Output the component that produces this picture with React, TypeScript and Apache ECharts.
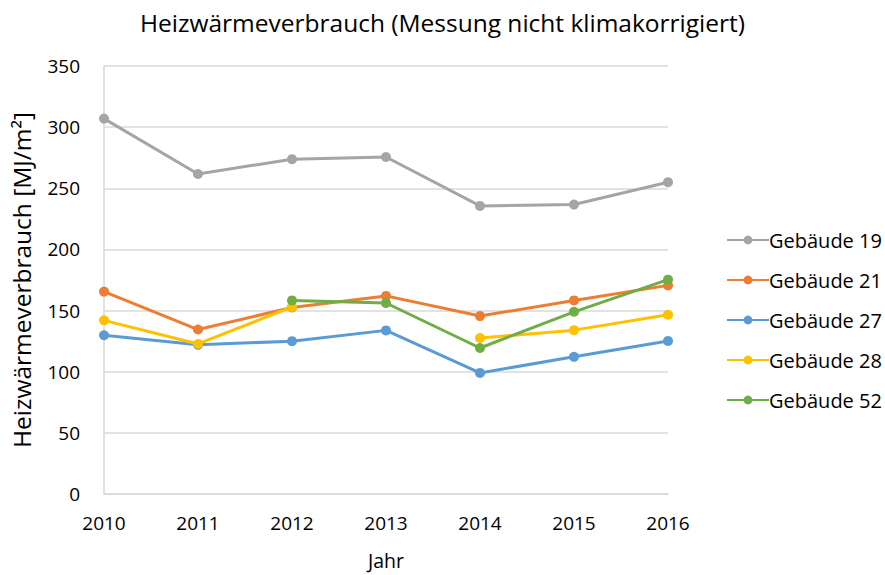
import React, { useEffect, useRef } from "react";
import * as echarts from "echarts";

const years = ["2010", "2011", "2012", "2013", "2014", "2015", "2016"];
const g19 = [307, 261.7, 273.8, 275.6, 235.6, 236.7, 255];
const g21 = [165.5, 134.5, 152.5, 162, 145.5, 158.3, 170.6];
const g27 = [129.8, 122, 125, 133.8, 99, 112.2, 125.2];
const g28 = [142, 122.7, 153, null, 127.6, 134, 146.6];
const g52 = [null, null, 158.3, 156.2, 119.4, 149, 175.3];
const seriesNames = ["Gebäude 19", "Gebäude 21", "Gebäude 27", "Gebäude 28", "Gebäude 52"];
const colors = ["#A5A5A5", "#ED7D31", "#5B9BD5", "#FFC000", "#70AD47"];
const yTicks = { min: 0, max: 350, interval: 50 };

const FONT = "'Open Sans', 'Noto Sans', sans-serif";

export default function App() {
  const ref = useRef<HTMLDivElement>(null);
  useEffect(() => {
    if (!ref.current) return;
    const chart = echarts.init(ref.current, null, { renderer: "svg" });
    const datasets = [g19, g21, g27, g28, g52];
    chart.setOption({
      animation: false,
      backgroundColor: "#ffffff",
      textStyle: { fontFamily: FONT, color: "#000" },
      title: {
        text: "Heizwärmeverbrauch (Messung nicht klimakorrigiert)",
        left: "center",
        top: 5,
        textStyle: { fontFamily: FONT, fontSize: 24.5, fontWeight: "normal", color: "#000" },
      },
      grid: { left: 104, right: 217, top: 66, bottom: 72, containLabel: false },
      legend: {
        orient: "vertical",
        left: 721,
        top: 225,
        itemGap: 20,
        itemWidth: 42,
        itemHeight: 11,
        data: seriesNames,
        textStyle: { fontFamily: FONT, fontSize: 20, lineHeight: 20, color: "#000", padding: [0, 0, 0, -5] },
      },
      xAxis: {
        type: "category",
        data: years,
        boundaryGap: false,
        name: "Jahr",
        nameLocation: "middle",
        nameGap: 56,
        nameTextStyle: { fontFamily: FONT, fontSize: 19.5, color: "#000" },
        axisLine: { show: true, lineStyle: { color: "#D9D9D9", width: 1.5 } },
        axisTick: { show: false },
        axisLabel: { fontFamily: FONT, fontSize: 19, color: "#000", margin: 19 },
        splitLine: { show: false },
      },
      yAxis: {
        type: "value",
        min: yTicks.min,
        max: yTicks.max,
        interval: yTicks.interval,
        name: "Heizwärmeverbrauch [MJ/m²]",
        nameLocation: "middle",
        nameRotate: 90,
        nameGap: 70,
        nameTextStyle: { fontFamily: FONT, fontSize: 24.5, color: "#000" },
        axisLine: { show: true, lineStyle: { color: "#D9D9D9", width: 1.5 } },
        axisTick: { show: false },
        axisLabel: { fontFamily: FONT, fontSize: 19, color: "#000", margin: 24 },
        splitLine: { show: true, lineStyle: { color: "#D9D9D9", width: 1.5 } },
      },
      series: datasets.map((d, i) => ({
        name: seriesNames[i],
        type: "line",
        data: d,
        connectNulls: false,
        symbol: "circle",
        symbolSize: 10,
        color: colors[i],
        lineStyle: { width: 3, color: colors[i] },
        itemStyle: { color: colors[i] },
      })),
    });
    return () => chart.dispose();
  }, []);
  return <div ref={ref} style={{ width: 885, height: 575, position: "absolute", left: 0, top: 0 }} />;
}
